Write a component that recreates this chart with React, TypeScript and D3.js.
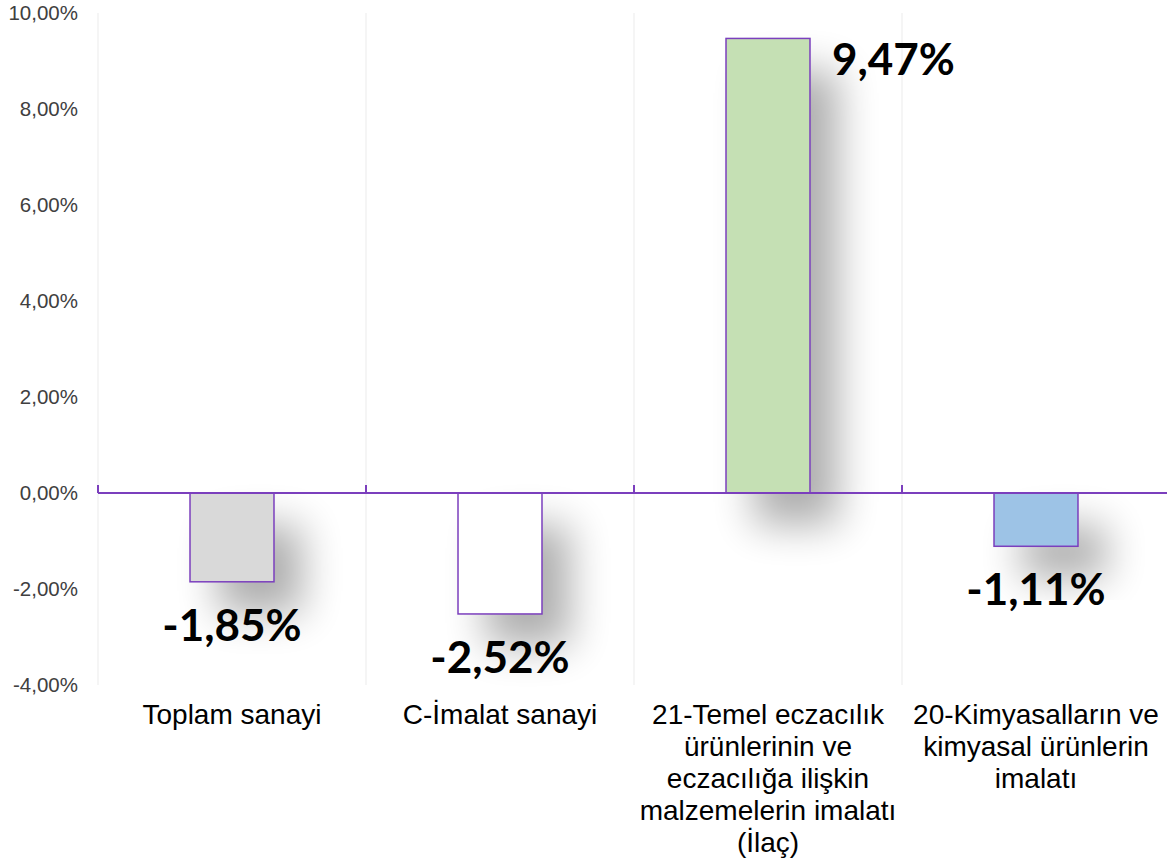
import React from "react";
import * as d3 from "d3";

const categories = [
  "Toplam sanayi",
  "C-İmalat sanayi",
  "21-Temel eczacılık ürünlerinin ve eczacılığa ilişkin malzemelerin imalatı (İlaç)",
  "20-Kimyasalların ve kimyasal ürünlerin imalatı",
];
const categoryLines = [
  ["Toplam sanayi"],
  ["C-İmalat sanayi"],
  ["21-Temel eczacılık", "ürünlerinin ve", "eczacılığa ilişkin", "malzemelerin imalatı", "(İlaç)"],
  ["20-Kimyasalların ve", "kimyasal ürünlerin", "imalatı"],
];
const values = [-1.85, -2.52, 9.47, -1.11];
const valueLabels = ["-1,85%", "-2,52%", "9,47%", "-1,11%"];
const barColors = ["#D9D9D9", "#FFFFFF", "#C5E0B4", "#9DC3E6"];
const yTicks = [-4, -2, 0, 2, 4, 6, 8, 10];
const yTickLabels = ["-4,00%", "-2,00%", "0,00%", "2,00%", "4,00%", "6,00%", "8,00%", "10,00%"];

const W = 1167;
const H = 860;
const purple = "#7B3FBD";
const sans = "'Liberation Sans', Arial, sans-serif";

export default function App() {
  const x = d3.scaleBand<string>().domain(categories).range([98, 1170]).padding(0);
  const y = d3.scaleLinear().domain([-4, 10]).range([685, 13]);
  const bw = x.bandwidth();
  const barW = bw * 0.3134;
  const y0 = y(0);

  return (
    <div style={{ position: "absolute", left: 0, top: 0 }}>
      <svg width={W} height={H} style={{ display: "block", background: "#fff" }}>
        <defs>
          <filter id="shadow" x="-100%" y="-100%" width="300%" height="300%">
            <feGaussianBlur in="SourceAlpha" stdDeviation="20" />
            <feOffset dx="28" dy="32" result="b" />
            <feComponentTransfer>
              <feFuncA type="linear" slope="0.32" />
            </feComponentTransfer>
          </filter>
        </defs>
        {categories.map((c, i) => (
          <line key={"g" + i} x1={x(c)!} x2={x(c)!} y1={y(10)} y2={y(-4)} stroke="#EFEFEF" strokeWidth={1.2} />
        ))}
        {categories.map((c, i) => {
          const cx = x(c)! + bw / 2;
          const top = Math.min(y(values[i]), y0);
          const h = Math.abs(y(values[i]) - y0);
          return <rect key={"s" + i} x={cx - barW / 2} y={top} width={barW} height={h} fill="#000" filter="url(#shadow)" />;
        })}
        {categories.map((c, i) => {
          const cx = x(c)! + bw / 2;
          const top = Math.min(y(values[i]), y0);
          const h = Math.abs(y(values[i]) - y0);
          return (
            <rect key={"b" + i} x={cx - barW / 2} y={top} width={barW} height={h} fill={barColors[i]} stroke={purple} strokeWidth={1.5} />
          );
        })}
        <line x1={98} x2={W} y1={y0} y2={y0} stroke={purple} strokeWidth={2} />
        {categories.map((c, i) => (
          <line key={"t" + i} x1={x(c)!} x2={x(c)!} y1={y0 - 8} y2={y0} stroke={purple} strokeWidth={2} />
        ))}
        {yTicks.map((t, i) => (
          <text key={"y" + i} x={78} y={y(t)} dy="0.35em" textAnchor="end" fontFamily={sans} fontSize={20.5} fill="#404040">
            {yTickLabels[i]}
          </text>
        ))}
        {categories.map((c, i) => (
          <text key={"c" + i} textAnchor="middle" fontFamily={sans} fontSize={28} fill="#000">
            {categoryLines[i].map((ln, j) => (
              <tspan key={j} x={x(c)! + bw / 2} y={724 + j * 32}>
                {ln}
              </tspan>
            ))}
          </text>
        ))}
        {categories.map((c, i) => {
          const cx = x(c)! + bw / 2;
          const v = values[i];
          if (v >= 0) {
            return (
              <text key={"v" + i} x={cx + barW / 2 + 22} y={y(v) + 37} textAnchor="start" fontFamily="Lato, sans-serif" fontWeight={700} fontSize={44} fill="#000">
                {valueLabels[i]}
              </text>
            );
          }
          return (
            <text key={"v" + i} x={cx} y={y(v) + 59} textAnchor="middle" fontFamily="Lato, sans-serif" fontWeight={700} fontSize={44} fill="#000">
              {valueLabels[i]}
            </text>
          );
        })}
      </svg>
    </div>
  );
}
